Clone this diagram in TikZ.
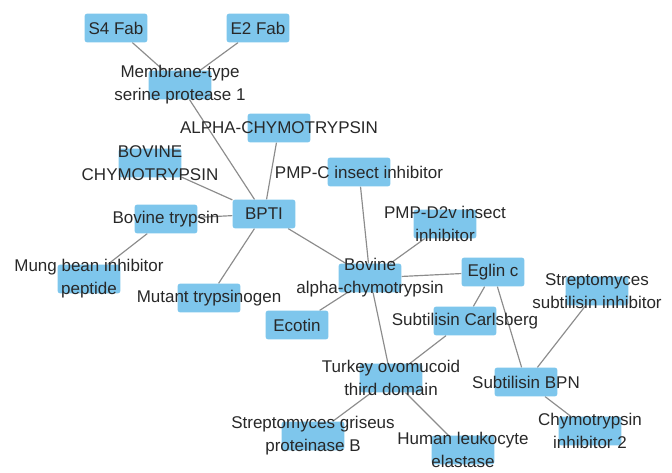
\documentclass[tikz,border=0pt]{standalone}
\usepackage{fontspec}
\setmainfont{Liberation Sans}
\usetikzlibrary{backgrounds}
\definecolor{protblue}{RGB}{126,198,236}
\definecolor{edgegray}{RGB}{140,140,140}
\definecolor{labelgray}{RGB}{40,40,40}

\begin{document}
\begin{tikzpicture}[x=0.03cm,y=-0.03cm,
    prot/.style={fill=protblue,rounded corners=2pt,minimum width=1.88cm,minimum height=0.86cm,inner sep=0pt},
    plabel/.style={text=labelgray,align=center,font=\fontsize{14.5}{19.6}\selectfont},
    link/.style={draw=edgegray,line width=1pt}]
    \useasboundingbox (0,0) rectangle (672,472);
    % proteins
    \node[prot,label={[plabel]center:S4 Fab}] (s4fab) at (116,28) {};
    \node[prot,label={[plabel]center:E2 Fab}] (e2fab) at (258,28) {};
    \node[prot,label={[plabel]center:Membrane-type\\serine protease 1}] (mtsp) at (180,85) {};
    \node[prot,label={[plabel]center:ALPHA-CHYMOTRYPSIN}] (achymo) at (279,128) {};
    \node[prot,label={[plabel]center:BOVINE\\CHYMOTRYPSIN}] (bchymo) at (150,163) {};
    \node[prot,label={[plabel]center:PMP-C insect inhibitor}] (pmpc) at (359,172) {};
    \node[prot,label={[plabel]center:BPTI}] (bpti) at (264,214) {};
    \node[prot,label={[plabel]center:Bovine trypsin}] (btryp) at (166,219) {};
    \node[prot,label={[plabel]center:PMP-D2v insect\\inhibitor}] (pmpd) at (445,224) {};
    \node[prot,label={[plabel]center:Mung bean inhibitor\\peptide}] (mung) at (89,279) {};
    \node[prot,label={[plabel]center:Mutant trypsinogen}] (mutant) at (209,298) {};
    \node[prot,label={[plabel]center:Ecotin}] (ecotin) at (297,325) {};
    \node[prot,label={[plabel]center:Bovine\\alpha-chymotrypsin}] (bachymo) at (370,278) {};
    \node[prot,label={[plabel]center:Eglin c}] (eglin) at (493,272) {};
    \node[prot,label={[plabel]center:Streptomyces\\subtilisin inhibitor}] (ssi) at (597,291) {};
    \node[prot,label={[plabel]center:Subtilisin Carlsberg}] (carls) at (465,321) {};
    \node[prot,label={[plabel]center:Turkey ovomucoid\\third domain}] (turkey) at (391,378) {};
    \node[prot,label={[plabel]center:Subtilisin BPN}] (bpn) at (526,382) {};
    \node[prot,label={[plabel]center:Streptomyces griseus\\proteinase B}] (sgpb) at (313,436) {};
    \node[prot,label={[plabel]center:Human leukocyte\\elastase}] (hle) at (463,450) {};
    \node[prot,label={[plabel]center:Chymotrypsin\\inhibitor 2}] (ci2) at (590,431) {};
    % interactions
    \begin{scope}[on background layer]
    \draw[link] (s4fab) -- (mtsp);
    \draw[link] (e2fab) -- (mtsp);
    \draw[link] (mtsp) -- (bpti);
    \draw[link] (achymo) -- (bpti);
    \draw[link] (bchymo) -- (bpti);
    \draw[link] (btryp) -- (bpti);
    \draw[link] (btryp) -- (mung);
    \draw[link] (bpti) -- (mutant);
    \draw[link] (bpti) -- (bachymo);
    \draw[link] (pmpc) -- (bachymo);
    \draw[link] (pmpd) -- (bachymo);
    \draw[link] (bachymo) -- (eglin);
    \draw[link] (bachymo) -- (ecotin);
    \draw[link] (bachymo) -- (turkey);
    \draw[link] (eglin) -- (carls);
    \draw[link] (eglin) -- (bpn);
    \draw[link] (carls) -- (turkey);
    \draw[link] (ssi) -- (bpn);
    \draw[link] (bpn) -- (ci2);
    \draw[link] (turkey) -- (sgpb);
    \draw[link] (turkey) -- (hle);
    \end{scope}
\end{tikzpicture}
\end{document}
